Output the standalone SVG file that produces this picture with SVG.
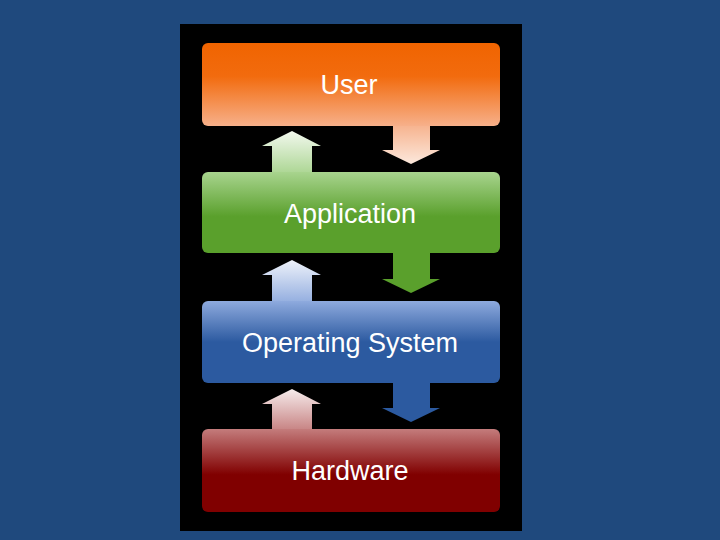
<svg xmlns="http://www.w3.org/2000/svg" width="720" height="540" viewBox="0 0 720 540">
  <defs>
    <linearGradient id="gUser" x1="0" y1="0" x2="0" y2="1">
      <stop offset="0" stop-color="#f06400"/>
      <stop offset="0.4" stop-color="#f26b0e"/>
      <stop offset="1" stop-color="#f7b08a"/>
    </linearGradient>
    <linearGradient id="gApp" x1="0" y1="0" x2="0" y2="1">
      <stop offset="0" stop-color="#a8d48e"/>
      <stop offset="0.55" stop-color="#5aa02c"/>
      <stop offset="1" stop-color="#5aa02c"/>
    </linearGradient>
    <linearGradient id="gOS" x1="0" y1="0" x2="0" y2="1">
      <stop offset="0" stop-color="#8eaade"/>
      <stop offset="0.5" stop-color="#2c5aa0"/>
      <stop offset="1" stop-color="#2c5aa0"/>
    </linearGradient>
    <linearGradient id="gHW" x1="0" y1="0" x2="0" y2="1">
      <stop offset="0" stop-color="#c47c7c"/>
      <stop offset="0.55" stop-color="#800000"/>
      <stop offset="1" stop-color="#800000"/>
    </linearGradient>
    <linearGradient id="gDownUser" x1="0" y1="0" x2="0" y2="1">
      <stop offset="0" stop-color="#f6ac84"/>
      <stop offset="1" stop-color="#fce8dc"/>
    </linearGradient>
    <linearGradient id="gUpApp" x1="0" y1="0" x2="0" y2="1">
      <stop offset="0" stop-color="#f2f8ee"/>
      <stop offset="1" stop-color="#a8d48e"/>
    </linearGradient>
    <linearGradient id="gUpOS" x1="0" y1="0" x2="0" y2="1">
      <stop offset="0" stop-color="#eef2fa"/>
      <stop offset="1" stop-color="#8eaade"/>
    </linearGradient>
    <linearGradient id="gUpHW" x1="0" y1="0" x2="0" y2="1">
      <stop offset="0" stop-color="#f6ecec"/>
      <stop offset="1" stop-color="#c47c7c"/>
    </linearGradient>
  </defs>
  <style>
    .lbl { font-family: "Liberation Sans", Arial, sans-serif; font-size: 27px; fill: #ffffff; text-anchor: middle; }
  </style>
  <rect x="0" y="0" width="720" height="540" fill="#1f497d"/>
  <rect x="180" y="24" width="342" height="507" fill="#000000"/>

  <g id="connectors">
    <path d="M393,120 L430,120 L430,150 L440,150 L411,164 L382,150 L393,150 Z" fill="url(#gDownUser)"/>
    <path d="M292,131 L321,146 L312,146 L312,176 L272,176 L272,146 L262,146 Z" fill="url(#gUpApp)"/>
    <path d="M393,248 L430,248 L430,279 L440,279 L411,293 L382,279 L393,279 Z" fill="#5aa02c"/>
    <path d="M292,260 L321,275 L312,275 L312,305 L272,305 L272,275 L262,275 Z" fill="url(#gUpOS)"/>
    <path d="M393,378 L430,378 L430,408 L440,408 L411,422 L382,408 L393,408 Z" fill="#2c5aa0"/>
    <path d="M292,389 L321,404 L312,404 L312,433 L272,433 L272,404 L262,404 Z" fill="url(#gUpHW)"/>
  </g>

  <g id="user">
    <rect x="202" y="43" width="298" height="83" rx="6" fill="url(#gUser)"/>
    <text class="lbl" x="349" y="94">User</text>
  </g>
  <g id="application">
    <rect x="202" y="172" width="298" height="81" rx="6" fill="url(#gApp)"/>
    <text class="lbl" x="350" y="223">Application</text>
  </g>
  <g id="os">
    <rect x="202" y="301" width="298" height="82" rx="6" fill="url(#gOS)"/>
    <text class="lbl" x="350" y="352">Operating System</text>
  </g>
  <g id="hardware">
    <rect x="202" y="429" width="298" height="83" rx="6" fill="url(#gHW)"/>
    <text class="lbl" x="350" y="480">Hardware</text>
  </g>
</svg>
